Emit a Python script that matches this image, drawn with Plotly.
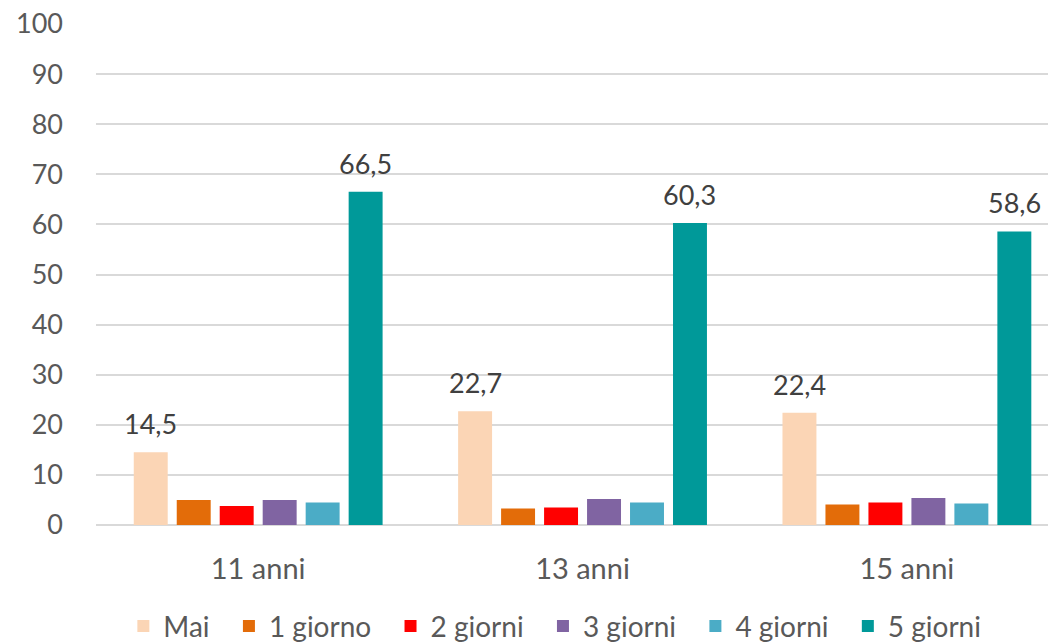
import plotly.graph_objects as go

# Age groups and weekly-frequency categories
ages = ["11 anni", "13 anni", "15 anni"]
series_names = ["Mai", "1 giorno", "2 giorni", "3 giorni", "4 giorni", "5 giorni"]

mai = [14.5, 22.7, 22.4]
giorno_1 = [5.0, 3.3, 4.1]
giorni_2 = [3.8, 3.5, 4.5]
giorni_3 = [5.0, 5.2, 5.4]
giorni_4 = [4.5, 4.5, 4.3]
giorni_5 = [66.5, 60.3, 58.6]

y_ticks = [0, 10, 20, 30, 40, 50, 60, 70, 80, 90, 100]

colors = ["#FBD5B5", "#E36C09", "#FF0000", "#8064A2", "#4BACC6", "#009999"]
values = [mai, giorno_1, giorni_2, giorni_3, giorni_4, giorni_5]
labelled = {"Mai", "5 giorni"}

FONT = "Lato, Open Sans, sans-serif"
BARGAP = 0.205
LEGEND_PAD = "\u00a0\u00a0"  # extra room between legend entries


def fmt(v):
    return f"{v:.1f}".replace(".", ",")


fig = go.Figure()
n = len(series_names)
for k, (name, vals, col) in enumerate(zip(series_names, values, colors)):
    fig.add_trace(go.Bar(
        name=name + (LEGEND_PAD if k < n - 1 else ""),
        x=ages,
        y=vals,
        marker=dict(color=col, line=dict(width=0)),
    ))
    if name in labelled:
        # value labels above the bar, centred on the bar's slot in the group
        offset = (k - (n - 1) / 2) * (1 - BARGAP) / n
        for i, v in enumerate(vals):
            fig.add_annotation(
                x=i + offset, y=v, xref="x", yref="y",
                text=fmt(v), showarrow=False,
                yanchor="bottom", yshift=10,
                font=dict(family=FONT, size=27, color="#404040"),
            )

fig.update_layout(
    width=1048,
    height=644,
    barmode="group",
    bargap=BARGAP,
    bargroupgap=0.21,
    plot_bgcolor="white",
    paper_bgcolor="white",
    margin=dict(l=96, r=0, t=24, b=119, autoexpand=False),
    font=dict(family=FONT, size=27, color="#595959"),
    legend=dict(
        orientation="h",
        x=0.482, xanchor="center",
        y=-0.202, yanchor="middle",
        font=dict(family=FONT, size=28, color="#595959"),
        itemwidth=30,
        traceorder="normal",
    ),
    xaxis=dict(
        range=[-0.5, 2.435],
        showgrid=False,
        showline=False,
        ticks="",
        ticklabelstandoff=24,
        tickfont=dict(family=FONT, size=29, color="#595959"),
    ),
    yaxis=dict(
        range=[0, 100],
        tickvals=y_ticks,
        showgrid=True,
        gridcolor="#D9D9D9",
        gridwidth=1.5,
        zeroline=True,
        zerolinecolor="#D9D9D9",
        zerolinewidth=1.5,
        showline=False,
        ticks="",
        ticklabelstandoff=32,
        tickfont=dict(family=FONT, size=27, color="#595959"),
    ),
)

fig.write_html("out.html")
